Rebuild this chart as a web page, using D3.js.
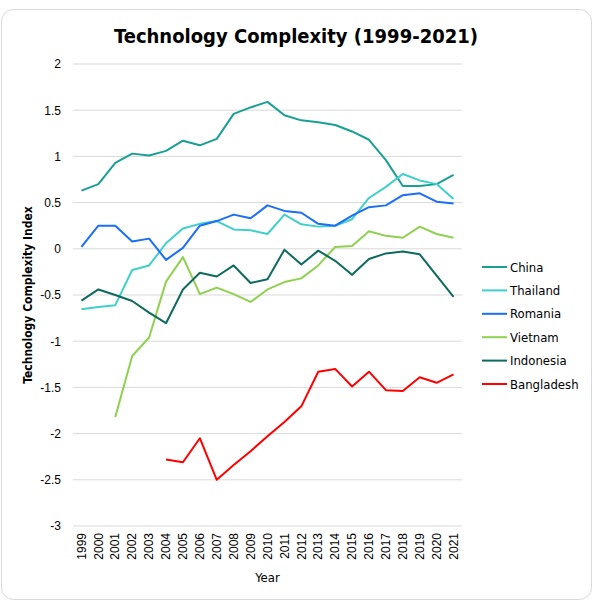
<!DOCTYPE html>
<html>
<head>
<meta charset="utf-8">
<script src="https://cdn.jsdelivr.net/npm/d3@7"></script>
<style>
  body { margin: 0; background: #fff; }
  svg { font-family: "DejaVu Sans Condensed", "Liberation Sans Narrow", sans-serif; }
</style>
</head>
<body>
<script>
const years = ["1999","2000","2001","2002","2003","2004","2005","2006","2007","2008","2009","2010",
  "2011","2012","2013","2014","2015","2016","2017","2018","2019","2020","2021"];

const china      = [0.63, 0.70, 0.93, 1.03, 1.01, 1.06, 1.17, 1.12, 1.19, 1.46, 1.53, 1.59, 1.445, 1.39, 1.37, 1.34, 1.27, 1.18, 0.96, 0.68, 0.68, 0.70, 0.80];
const thailand   = [-0.655, -0.63, -0.61, -0.23, -0.18, 0.06, 0.22, 0.27, 0.30, 0.21, 0.20, 0.16, 0.37, 0.265, 0.24, 0.25, 0.32, 0.55, 0.67, 0.81, 0.74, 0.70, 0.54];
const romania    = [0.02, 0.25, 0.25, 0.08, 0.11, -0.12, 0.01, 0.25, 0.30, 0.37, 0.33, 0.47, 0.41, 0.39, 0.27, 0.25, 0.36, 0.45, 0.47, 0.58, 0.60, 0.51, 0.49];
const vietnam    = [null, null, -1.82, -1.16, -0.96, -0.355, -0.09, -0.49, -0.42, -0.49, -0.575, -0.44, -0.36, -0.32, -0.18, 0.02, 0.03, 0.19, 0.14, 0.12, 0.24, 0.16, 0.12];
const indonesia  = [-0.56, -0.44, -0.50, -0.565, -0.69, -0.805, -0.44, -0.26, -0.30, -0.18, -0.37, -0.33, -0.01, -0.17, -0.02, -0.13, -0.28, -0.11, -0.05, -0.03, -0.06, -0.29, -0.52];
const bangladesh = [null, null, null, null, null, -2.28, -2.31, -2.05, -2.50, -2.34, -2.19, -2.03, -1.875, -1.705, -1.33, -1.30, -1.49, -1.33, -1.53, -1.54, -1.39, -1.45, -1.36];

const seriesNames  = ["China", "Thailand", "Romania", "Vietnam", "Indonesia", "Bangladesh"];
const seriesValues = [china, thailand, romania, vietnam, indonesia, bangladesh];
const colors = ["#18a093", "#3fd0cc", "#1a6ef7", "#8fd14f", "#0c6b5e", "#ff0000"];
const yTicks = [2, 1.5, 1, 0.5, 0, -0.5, -1, -1.5, -2, -2.5, -3];

const W = 599, H = 603;
const margin = { top: 64, right: 137, bottom: 77, left: 73 };
const width = W - margin.left - margin.right;
const height = H - margin.top - margin.bottom;

const svg = d3.select("body").append("svg")
  .attr("width", W)
  .attr("height", H);

// rounded frame
svg.append("rect")
  .attr("x", 1.5).attr("y", 9.5)
  .attr("width", 590).attr("height", 590)
  .attr("rx", 12)
  .attr("fill", "#fff")
  .attr("stroke", "#d9d9d9");

svg.append("text")
  .attr("x", 296).attr("y", 43)
  .attr("text-anchor", "middle")
  .attr("font-size", 20)
  .attr("font-weight", "bold")
  .attr("fill", "#000")
  .text("Technology Complexity (1999-2021)");

const g = svg.append("g")
  .attr("transform", `translate(${margin.left},${margin.top})`);

const x = d3.scaleBand().domain(years).range([0, width]);
const y = d3.scaleLinear().domain([-3, 2]).range([height, 0]);

// grid
g.append("g")
  .selectAll("line")
  .data(yTicks)
  .enter().append("line")
  .attr("x1", 0).attr("x2", width)
  .attr("y1", d => y(d)).attr("y2", d => y(d))
  .attr("stroke", "#d9d9d9")
  .attr("stroke-width", 1);

// y axis labels
const yAxis = g.append("g")
  .call(d3.axisLeft(y).tickValues(yTicks).tickFormat(d => String(d)).tickSize(0).tickPadding(12));
yAxis.select(".domain").remove();
yAxis.selectAll("text")
  .attr("font-size", 12)
  .attr("fill", "#000")
  .attr("font-family", "inherit");

// x axis labels
const xAxis = g.append("g")
  .attr("transform", `translate(0,${height})`)
  .call(d3.axisBottom(x).tickSize(0));
xAxis.select(".domain").remove();
xAxis.selectAll("text")
  .attr("font-size", 12)
  .attr("fill", "#000")
  .attr("font-family", "inherit")
  .attr("text-anchor", "end")
  .attr("transform", "rotate(-90)")
  .attr("x", -7)
  .attr("y", 0)
  .attr("dy", "0.35em");

// axis titles
svg.append("text")
  .attr("transform", `translate(32,${margin.top + height / 2}) rotate(-90)`)
  .attr("text-anchor", "middle")
  .attr("font-size", 12)
  .attr("font-weight", "bold")
  .attr("fill", "#000")
  .text("Technology Complexity Index");

svg.append("text")
  .attr("x", margin.left + width / 2).attr("y", 582)
  .attr("text-anchor", "middle")
  .attr("font-size", 13)
  .attr("fill", "#000")
  .text("Year");

// lines
const line = d3.line()
  .defined(d => d != null)
  .x((d, i) => x(years[i]) + x.bandwidth() / 2)
  .y(d => y(d));

g.selectAll(".series")
  .data(seriesValues)
  .enter().append("path")
  .attr("class", "series")
  .attr("fill", "none")
  .attr("stroke", (d, i) => colors[i])
  .attr("stroke-width", 2)
  .attr("stroke-linejoin", "round")
  .attr("d", line);

// legend
const legend = svg.append("g")
  .attr("transform", "translate(482,267)");
const item = legend.selectAll("g")
  .data(seriesNames)
  .enter().append("g")
  .attr("transform", (d, i) => `translate(0,${i * 23.4})`);
item.append("line")
  .attr("x1", 0).attr("x2", 25)
  .attr("stroke", (d, i) => colors[i])
  .attr("stroke-width", 2);
item.append("text")
  .attr("x", 28).attr("dy", "0.35em")
  .attr("font-size", 13)
  .attr("fill", "#000")
  .text(d => d);
</script>
</body>
</html>
